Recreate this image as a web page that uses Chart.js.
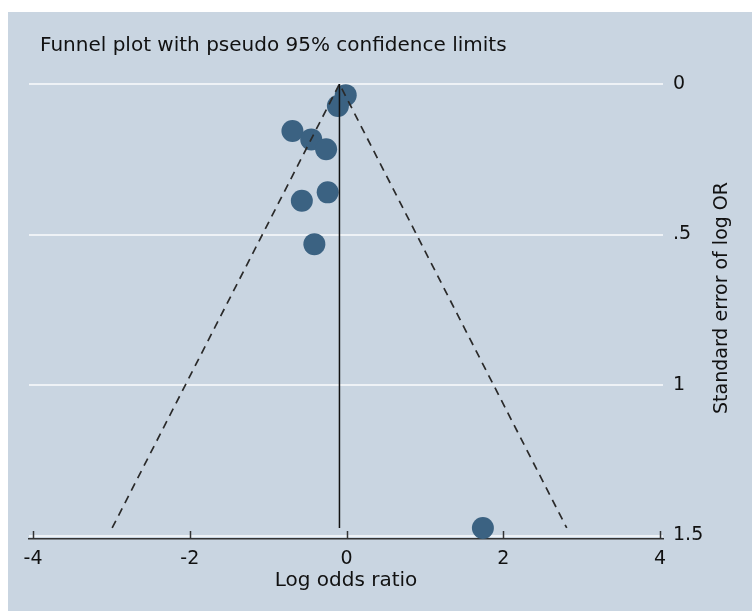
<!DOCTYPE html>
<html>
<head>
<meta charset="utf-8">
<script src="https://cdn.jsdelivr.net/npm/chart.js@4"></script>
<style>
  html, body { margin: 0; padding: 0; background: #ffffff; }
  #funnel { position: absolute; left: 8px; top: 12px; background: #c9d5e1; }
</style>
</head>
<body>
<canvas id="funnel" width="744" height="599"></canvas>
<script>
// estudos (log OR e erro padrão)
const logOR = [-0.01, -0.11, -0.69, -0.45, -0.26, -0.24, -0.57, -0.41, 1.74];
const seLogOR = [0.037, 0.073, 0.156, 0.184, 0.217, 0.36, 0.388, 0.532, 1.475];

// limites do funil (pseudo 95%) e estimativa combinada
const funnelX = [-2.99, -0.09, 2.81];
const funnelSE = [1.475, 0, 1.475];
const pooledX = [-0.09, -0.09];
const pooledSE = [0, 1.475];

// eixos
const xTickValues = [-4, -2, 0, 2, 4];
const xTickLabels = ['-4', '-2', '0', '2', '4'];
const yTickValues = [0, 0.5, 1, 1.5];
const yTickLabels = ['0', '.5', '1', '1.5'];

const fonte = 'DejaVu Sans';
const corTexto = '#111111';

// textos extras + marcas do eixo x para cima
const extras = {
  id: 'extras',
  afterDraw(chart) {
    const ctx = chart.ctx;
    const x = chart.scales.x;
    const area = chart.chartArea;
    ctx.save();
    ctx.strokeStyle = '#333333';
    ctx.lineWidth = 1.5;
    xTickValues.forEach(v => {
      const px = Math.round(x.getPixelForValue(v)) + 0.5;
      ctx.beginPath();
      ctx.moveTo(px, area.bottom);
      ctx.lineTo(px, area.bottom - 8);
      ctx.stroke();
    });
    ctx.fillStyle = corTexto;
    ctx.font = '20px "' + fonte + '"';
    ctx.textAlign = 'left';
    ctx.textBaseline = 'middle';
    ctx.fillText('Funnel plot with pseudo 95% confidence limits', 32, 34);
    ctx.translate(714, 286);
    ctx.rotate(-Math.PI / 2);
    ctx.font = '19px "' + fonte + '"';
    ctx.textAlign = 'center';
    ctx.fillText('Standard error of log OR', 0, 0);
    ctx.restore();
  }
};

const ctx = document.getElementById('funnel').getContext('2d');
new Chart(ctx, {
  type: 'scatter',
  data: {
    datasets: [
      {
        label: 'Estimativa combinada',
        data: pooledX.map((v, i) => ({ x: v, y: pooledSE[i] })),
        showLine: true,
        borderColor: '#111111',
        borderWidth: 1.5,
        pointRadius: 0,
        clip: false
      },
      {
        label: 'Limites 95%',
        data: funnelX.map((v, i) => ({ x: v, y: funnelSE[i] })),
        showLine: true,
        borderColor: '#2a2a2a',
        borderWidth: 1.7,
        borderDash: [8, 6],
        pointRadius: 0,
        clip: false
      },
      {
        label: 'Estudos',
        data: logOR.map((v, i) => ({ x: v, y: seLogOR[i] })),
        backgroundColor: '#3b6282',
        borderWidth: 0,
        pointRadius: 11,
        pointHoverRadius: 11,
        clip: false
      }
    ]
  },
  options: {
    responsive: false,
    animation: false,
    layout: { padding: { left: 21, top: 68, right: 0, bottom: 0 } },
    plugins: {
      legend: { display: false },
      tooltip: { enabled: false }
    },
    scales: {
      x: {
        type: 'linear',
        position: 'bottom',
        min: -4.051,
        max: 4.038,
        afterBuildTicks: s => { s.ticks = xTickValues.map(v => ({ value: v })); },
        afterFit: s => { s.height = 72; },
        grid: { display: false },
        border: { display: true, color: '#333333', width: 1.5 },
        ticks: {
          padding: 1,
          color: corTexto,
          font: { family: fonte, size: 19 },
          maxRotation: 0,
          callback: (v, i) => xTickLabels[i]
        },
        title: {
          display: true,
          text: 'Log odds ratio',
          color: corTexto,
          font: { family: fonte, size: 20 },
          padding: { top: 18, bottom: 18 }
        }
      },
      y: {
        type: 'linear',
        position: 'right',
        reverse: true,
        min: -0.0133,
        max: 1.5116,
        afterBuildTicks: s => { s.ticks = yTickValues.map(v => ({ value: v })); },
        afterFit: s => { s.width = 89; },
        grid: { color: '#eef2f6', lineWidth: 2, drawTicks: false },
        border: { display: false },
        ticks: {
          padding: 10,
          color: corTexto,
          font: { family: fonte, size: 19 },
          callback: (v, i) => yTickLabels[i]
        }
      }
    }
  },
  plugins: [extras]
});
</script>
</body>
</html>
